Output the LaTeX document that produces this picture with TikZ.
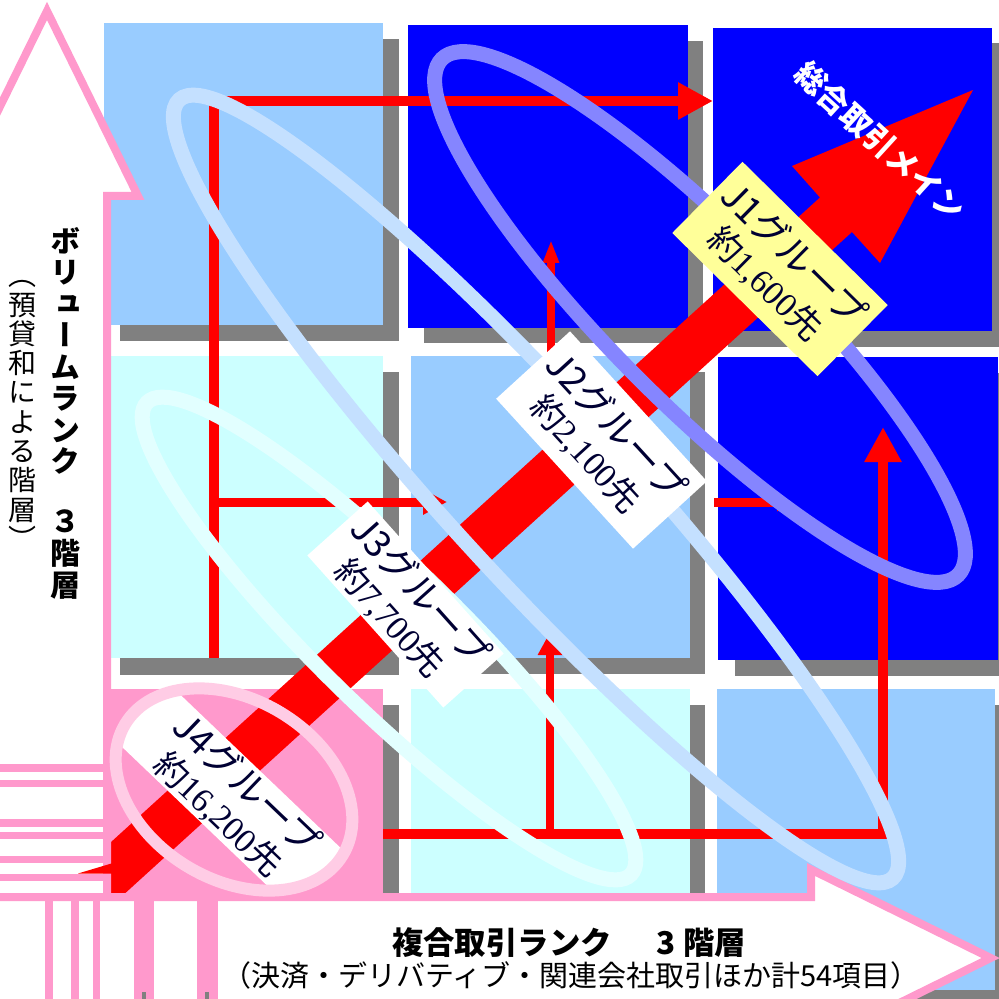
\documentclass[tikz,border=0pt]{standalone}
\usepackage{fontspec}
\newfontfamily\jp{Noto Sans CJK JP}
\newfontfamily\jpv{Noto Sans CJK JP}[RawFeature=+vert]
\newfontfamily\ser{Liberation Serif}
\usetikzlibrary{arrows.meta}
\definecolor{lblue}{HTML}{99CCFF}
\definecolor{dblue}{HTML}{0000FF}
\definecolor{lcyan}{HTML}{CCFFFF}
\definecolor{pinkc}{HTML}{FF99CC}
\definecolor{shad}{HTML}{808080}
\definecolor{redc}{HTML}{FF0000}
\definecolor{yel}{HTML}{FFFF99}
\definecolor{navy}{HTML}{000033}
\definecolor{ringA}{HTML}{8585FF}
\definecolor{ringB}{HTML}{C4E0FF}
\definecolor{ringC}{HTML}{E2FFFF}
\definecolor{ringD}{HTML}{FFCCE5}
\makeatletter
\newcommand\vstackchars[2]{\vbox{\baselineskip=#1\lineskiplimit=-100pt\lineskip=0pt\@tfor\vs@c:=#2\do{\hbox to 1em{\hss\vs@c\hss}}}}
\makeatother
\newcommand\lineb[1]{{\fontsize{17pt}{20pt}\selectfont #1}}
\tikzset{
  conn/.style={draw=redc, line width=5pt, -{Triangle[length=17.5pt,width=17.5pt]}},
  connm/.style={draw=redc, line width=4.5pt, -{Triangle[length=12pt,width=12pt]}},
  conns/.style={draw=redc, line width=4.5pt, -{Triangle[length=7pt,width=9pt]}},
  connv/.style={draw=redc, line width=4pt, -{Triangle[length=11.5pt,width=11.5pt]}},
  connw/.style={draw=redc, line width=4pt, -{Triangle[length=11.5pt,width=7.5pt]}},
  pinkarrow/.style={fill=white, draw=pinkc, line width=4pt, line join=miter},
  ring/.style={line width=7.5pt},
  labbox/.style={inner sep=0pt, align=center, text=navy, font=\jp\fontsize{18.5pt}{20pt}\selectfont},
  vbold/.style={inner sep=0pt, font=\jpv\bfseries\fontsize{15pt}{15pt}\selectfont},
}
\begin{document}
\begin{tikzpicture}[x=0.5pt,y=-0.5pt]
\useasboundingbox (0,0) rectangle (998,999);
\fill[white] (0,0) rectangle (998,999);
% shadows and squares
\fill[shad] (120,39) rectangle (399,341);   \fill[lblue] (104,23) rectangle (383,325);
\fill[shad] (424,41) rectangle (703,343);   \fill[dblue] (408,25) rectangle (688,328);
\fill[shad] (728,43) rectangle (1008,347);  \fill[dblue] (713,28) rectangle (992,331);
\fill[shad] (120,372) rectangle (399,675);  \fill[lcyan] (104,356) rectangle (383,658);
\fill[shad] (427,372) rectangle (705,674);  \fill[lblue] (411,356) rectangle (690,658);
\fill[shad] (735,373) rectangle (1014,676); \fill[dblue] (718,357) rectangle (998,660);
\fill[shad] (120,705) rectangle (399,1000); \fill[pinkc] (104,689) rectangle (383,990);
\fill[shad] (427,705) rectangle (705,1000); \fill[lcyan] (411,689) rectangle (690,990);
\fill[shad] (733,705) rectangle (1011,1006);\fill[lblue] (717,689) rectangle (995,990);
% red connectors
\coordinate (a1) at (214,658); \coordinate (a2) at (214,101); \coordinate (a3) at (713,101);
\draw[conn] (a1) -- (a2) -- (a3);
\coordinate (b1) at (214,502); \coordinate (b2) at (447,502);
\draw[connm] (b1) -- (b2);
\coordinate (c1) at (714,502); \coordinate (c2) at (791,502);
\draw[conns] (c1) -- (c2);
\coordinate (d1) at (383,834); \coordinate (d2) at (883,834); \coordinate (d3) at (883,427);
\draw[conn] (d1) -- (d2) -- (d3);
\coordinate (e1) at (550,834); \coordinate (e2) at (550,632);
\draw[connv] (e1) -- (e2);
\coordinate (f1) at (551,480); \coordinate (f2) at (551,240);
\draw[connw] (f1) -- (f2);
% big red arrow
\fill[redc] (973,90) -- (880,263) -- (852,232) -- (38,972.5) -- (6,937.5) -- (820,197.5) -- (792,166) -- cycle;
% pink arrows
\filldraw[pinkarrow] (-13,1019) -- (-13,196) -- (-44,196) -- (47,11) -- (138,196) -- (107,196) -- (107,1019) -- cycle;
\foreach \ya/\yb in {764/772, 780/787, 819/827, 832/839, 856/863, 874/881}
  \fill[pinkc] (-13,\ya) rectangle (107,\yb);
\filldraw[pinkarrow] (-20,897) -- (811,897) -- (811,869.5) -- (990.7,958) -- (811,1046.5) -- (811,1019) -- (-20,1019) -- cycle;
\foreach \xa/\xb in {45/53, 71/79, 93/100, 134/154, 197/218}
  \fill[pinkc] (\xa,897) rectangle (\xb,1019);
\fill[shad] (142,992) rectangle (146,1000);
\fill[shad] (205,992) rectangle (209,1000);
\fill[redc] (78,873.5) -- (113,863) -- (113,873.5) -- cycle;
% rings
\draw[ring, ringA, rotate around={-45:(700,317)}] (700,317) ellipse [x radius=365, y radius=87];
\draw[ring, ringB, rotate around={-47.5:(536,489)}] (536,489) ellipse [x radius=528, y radius=88];
\draw[ring, ringC, rotate around={-44.3:(389,638.5)}] (389,638.5) ellipse [x radius=338, y radius=70];
\begin{scope}
  \clip[rotate around={-31:(234,789.5)}] (234,789.5) ellipse [x radius=127, y radius=90];
  \fill[white, rotate around={-43.7:(233,799)}] (33,760) rectangle (433,838);
\end{scope}
\draw[line width=6pt, ringD, rotate around={-31:(234,789.5)}] (234,789.5) ellipse [x radius=127, y radius=90];
% label boxes
\node[labbox, fill=yel, minimum width=102pt, minimum height=50pt, rotate=-44.6] (j1) at (780,269) {J1グループ\\\lineb{約{\ser 1,600}先}};
\node[labbox, fill=white, minimum width=101.5pt, minimum height=50pt, rotate=-47.6] (j2) at (601.5,440) {J2グループ\\\lineb{約{\ser 2,100}先}};
\node[labbox, fill=white, minimum width=102pt, minimum height=40.5pt, rotate=-48.2] (j3) at (405.5,604.5) {J3グループ\\\lineb{約{\ser 7,700}先}};
\node[labbox, rotate=-43.7] (j4) at (233,799) {J4グループ\\\lineb{約{\ser 16,200}先}};
% other texts
\node[inner sep=0pt, text=white, font=\jp\bfseries\fontsize{15.5pt}{15.5pt}\selectfont, rotate=-42.5] (main) at (880,141) {総合取引メイン};
\node[vbold, anchor=north] (v1) at (65,227) {\vstackchars{15.75pt}{ボリュームランク}};
\node[vbold] (v2) at (65,555) {\vstackchars{16pt}{３階層}};
\node[inner sep=0pt, font=\jpv\fontsize{14pt}{14pt}\selectfont] (v3) at (23,415) {\vstackchars{14.65pt}{（預貸和による階層）}};
\node[inner sep=0pt, font=\jp\bfseries\fontsize{15.7pt}{15.7pt}\selectfont] (h1) at (569,943) {複合取引ランク\hspace{22.5pt}3\hspace{3.5pt}階層};
\node[inner sep=0pt, font=\jp\fontsize{14.5pt}{14.5pt}\selectfont] (h2) at (571,975) {（決済・デリバティブ・関連会社取引ほか計54項目）};
\end{tikzpicture}
\end{document}
